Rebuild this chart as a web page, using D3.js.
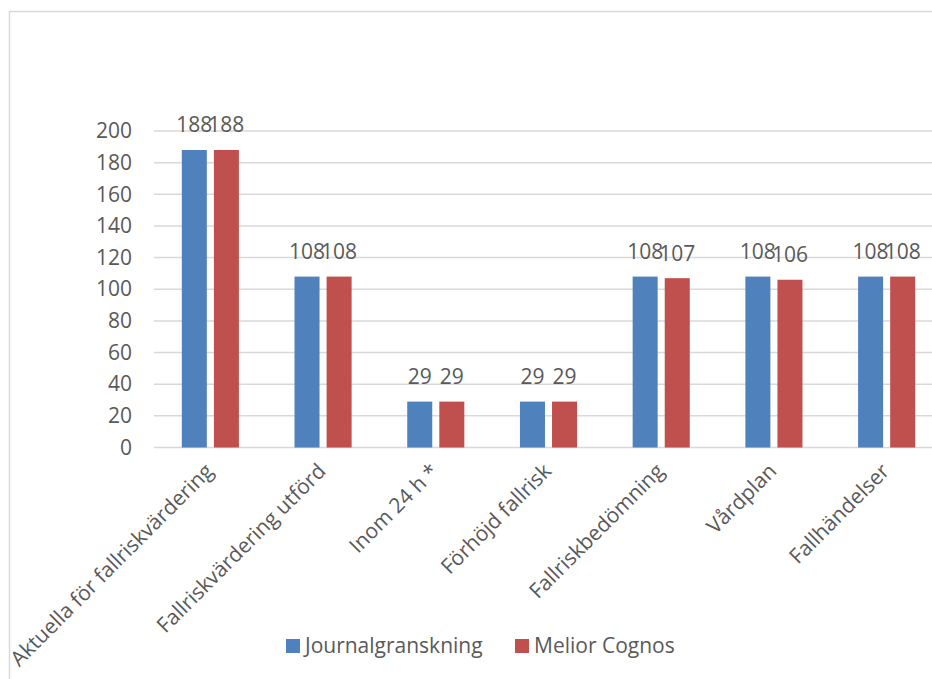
<!DOCTYPE html>
<html>
<head>
<meta charset="utf-8">
<script src="https://cdn.jsdelivr.net/npm/d3@7"></script>
<style>
  body { margin: 0; background: #fff; }
  text { font-family: "Open Sans", "Noto Sans", sans-serif; fill: #595959; }
</style>
</head>
<body>
<div id="container"></div>
<script>
// categories along the x axis
const categories = [
  "Aktuella för fallriskvärdering",
  "Fallriskvärdering utförd",
  "Inom 24 h *",
  "Förhöjd fallrisk",
  "Fallriskbedömning",
  "Vårdplan",
  "Fallhändelser",
];

// the two series
const seriesNames = ["Journalgranskning", "Melior Cognos"];
const journalValues = [188, 108, 29, 29, 108, 108, 108];
const meliorValues = [188, 108, 29, 29, 107, 106, 108];

// y axis ticks
const yTicks = [0, 20, 40, 60, 80, 100, 120, 140, 160, 180, 200];

const colors = ["#4F81BD", "#C0504D"];

const width = 932;
const height = 679;
const fontSize = "21px";

const svg = d3
  .select("#container")
  .append("svg")
  .attr("width", width)
  .attr("height", height);

// chart border (cut off at right and bottom like the original)
svg
  .append("rect")
  .attr("x", 9.5)
  .attr("y", 11.5)
  .attr("width", 1000)
  .attr("height", 1000)
  .attr("fill", "none")
  .attr("stroke", "#D9D9D9")
  .attr("stroke-width", 1.5);

const plotLeft = 154;
const plotRight = 943;

// scales
const x0 = d3.scaleBand().domain(categories).range([plotLeft, plotRight]);
const x1 = d3
  .scaleBand()
  .domain(seriesNames)
  .range([27.8, 84.9])
  .paddingInner(0.22);
const y = d3.scaleLinear().domain([0, 200]).range([447.5, 131]);

// gridlines
svg
  .append("g")
  .selectAll("line")
  .data(yTicks)
  .enter()
  .append("line")
  .attr("x1", plotLeft)
  .attr("x2", plotRight)
  .attr("y1", (d) => y(d))
  .attr("y2", (d) => y(d))
  .attr("stroke", "#D9D9D9")
  .attr("stroke-width", 1.5);

// y axis labels
const yAxis = d3.axisLeft(y).tickValues(yTicks).tickSize(0).tickPadding(0);
const yG = svg
  .append("g")
  .attr("transform", "translate(132,0)")
  .call(yAxis);
yG.select(".domain").remove();
yG.selectAll("text")
  .style("font-size", fontSize)
  .style("font-family", '"Open Sans", sans-serif')
  .attr("fill", "#595959");

// build rows from the arrays
const rows = categories.map((c, i) => ({
  category: c,
  values: [
    { series: seriesNames[0], value: journalValues[i], color: colors[0] },
    { series: seriesNames[1], value: meliorValues[i], color: colors[1] },
  ],
}));

const groups = svg
  .append("g")
  .selectAll("g")
  .data(rows)
  .enter()
  .append("g")
  .attr("transform", (d) => "translate(" + x0(d.category) + ",0)");

groups
  .selectAll("rect")
  .data((d) => d.values)
  .enter()
  .append("rect")
  .attr("x", (d) => x1(d.series))
  .attr("width", x1.bandwidth())
  .attr("y", (d) => y(d.value))
  .attr("height", (d) => y(0) - y(d.value))
  .attr("fill", (d) => d.color);

// data labels
groups
  .selectAll("text")
  .data((d) => d.values)
  .enter()
  .append("text")
  .attr("x", (d) => x1(d.series) + x1.bandwidth() / 2)
  .attr("y", (d) => y(d.value) - 17.5)
  .attr("text-anchor", "middle")
  .style("font-size", fontSize)
  .text((d) => d.value);

// rotated category labels
svg
  .append("g")
  .selectAll("text")
  .data(categories)
  .enter()
  .append("text")
  .attr("text-anchor", "end")
  .attr(
    "transform",
    (d) =>
      "translate(" +
      (x0(d) + x0.bandwidth() / 2 + 4) +
      "," +
      (y(0) + 25) +
      ") rotate(-45)"
  )
  .style("font-size", fontSize)
  .text((d) => d);

// legend
const legendItems = [
  { name: seriesNames[0], color: colors[0], x: 286 },
  { name: seriesNames[1], color: colors[1], x: 515 },
];
const legend = svg
  .append("g")
  .selectAll("g")
  .data(legendItems)
  .enter()
  .append("g")
  .attr("transform", (d) => "translate(" + d.x + ",639)");
legend
  .append("rect")
  .attr("width", 14)
  .attr("height", 14)
  .attr("fill", (d) => d.color);
legend
  .append("text")
  .attr("x", 19)
  .attr("y", 7)
  .attr("dy", "0.35em")
  .style("font-size", fontSize)
  .text((d) => d.name);
</script>
</body>
</html>
